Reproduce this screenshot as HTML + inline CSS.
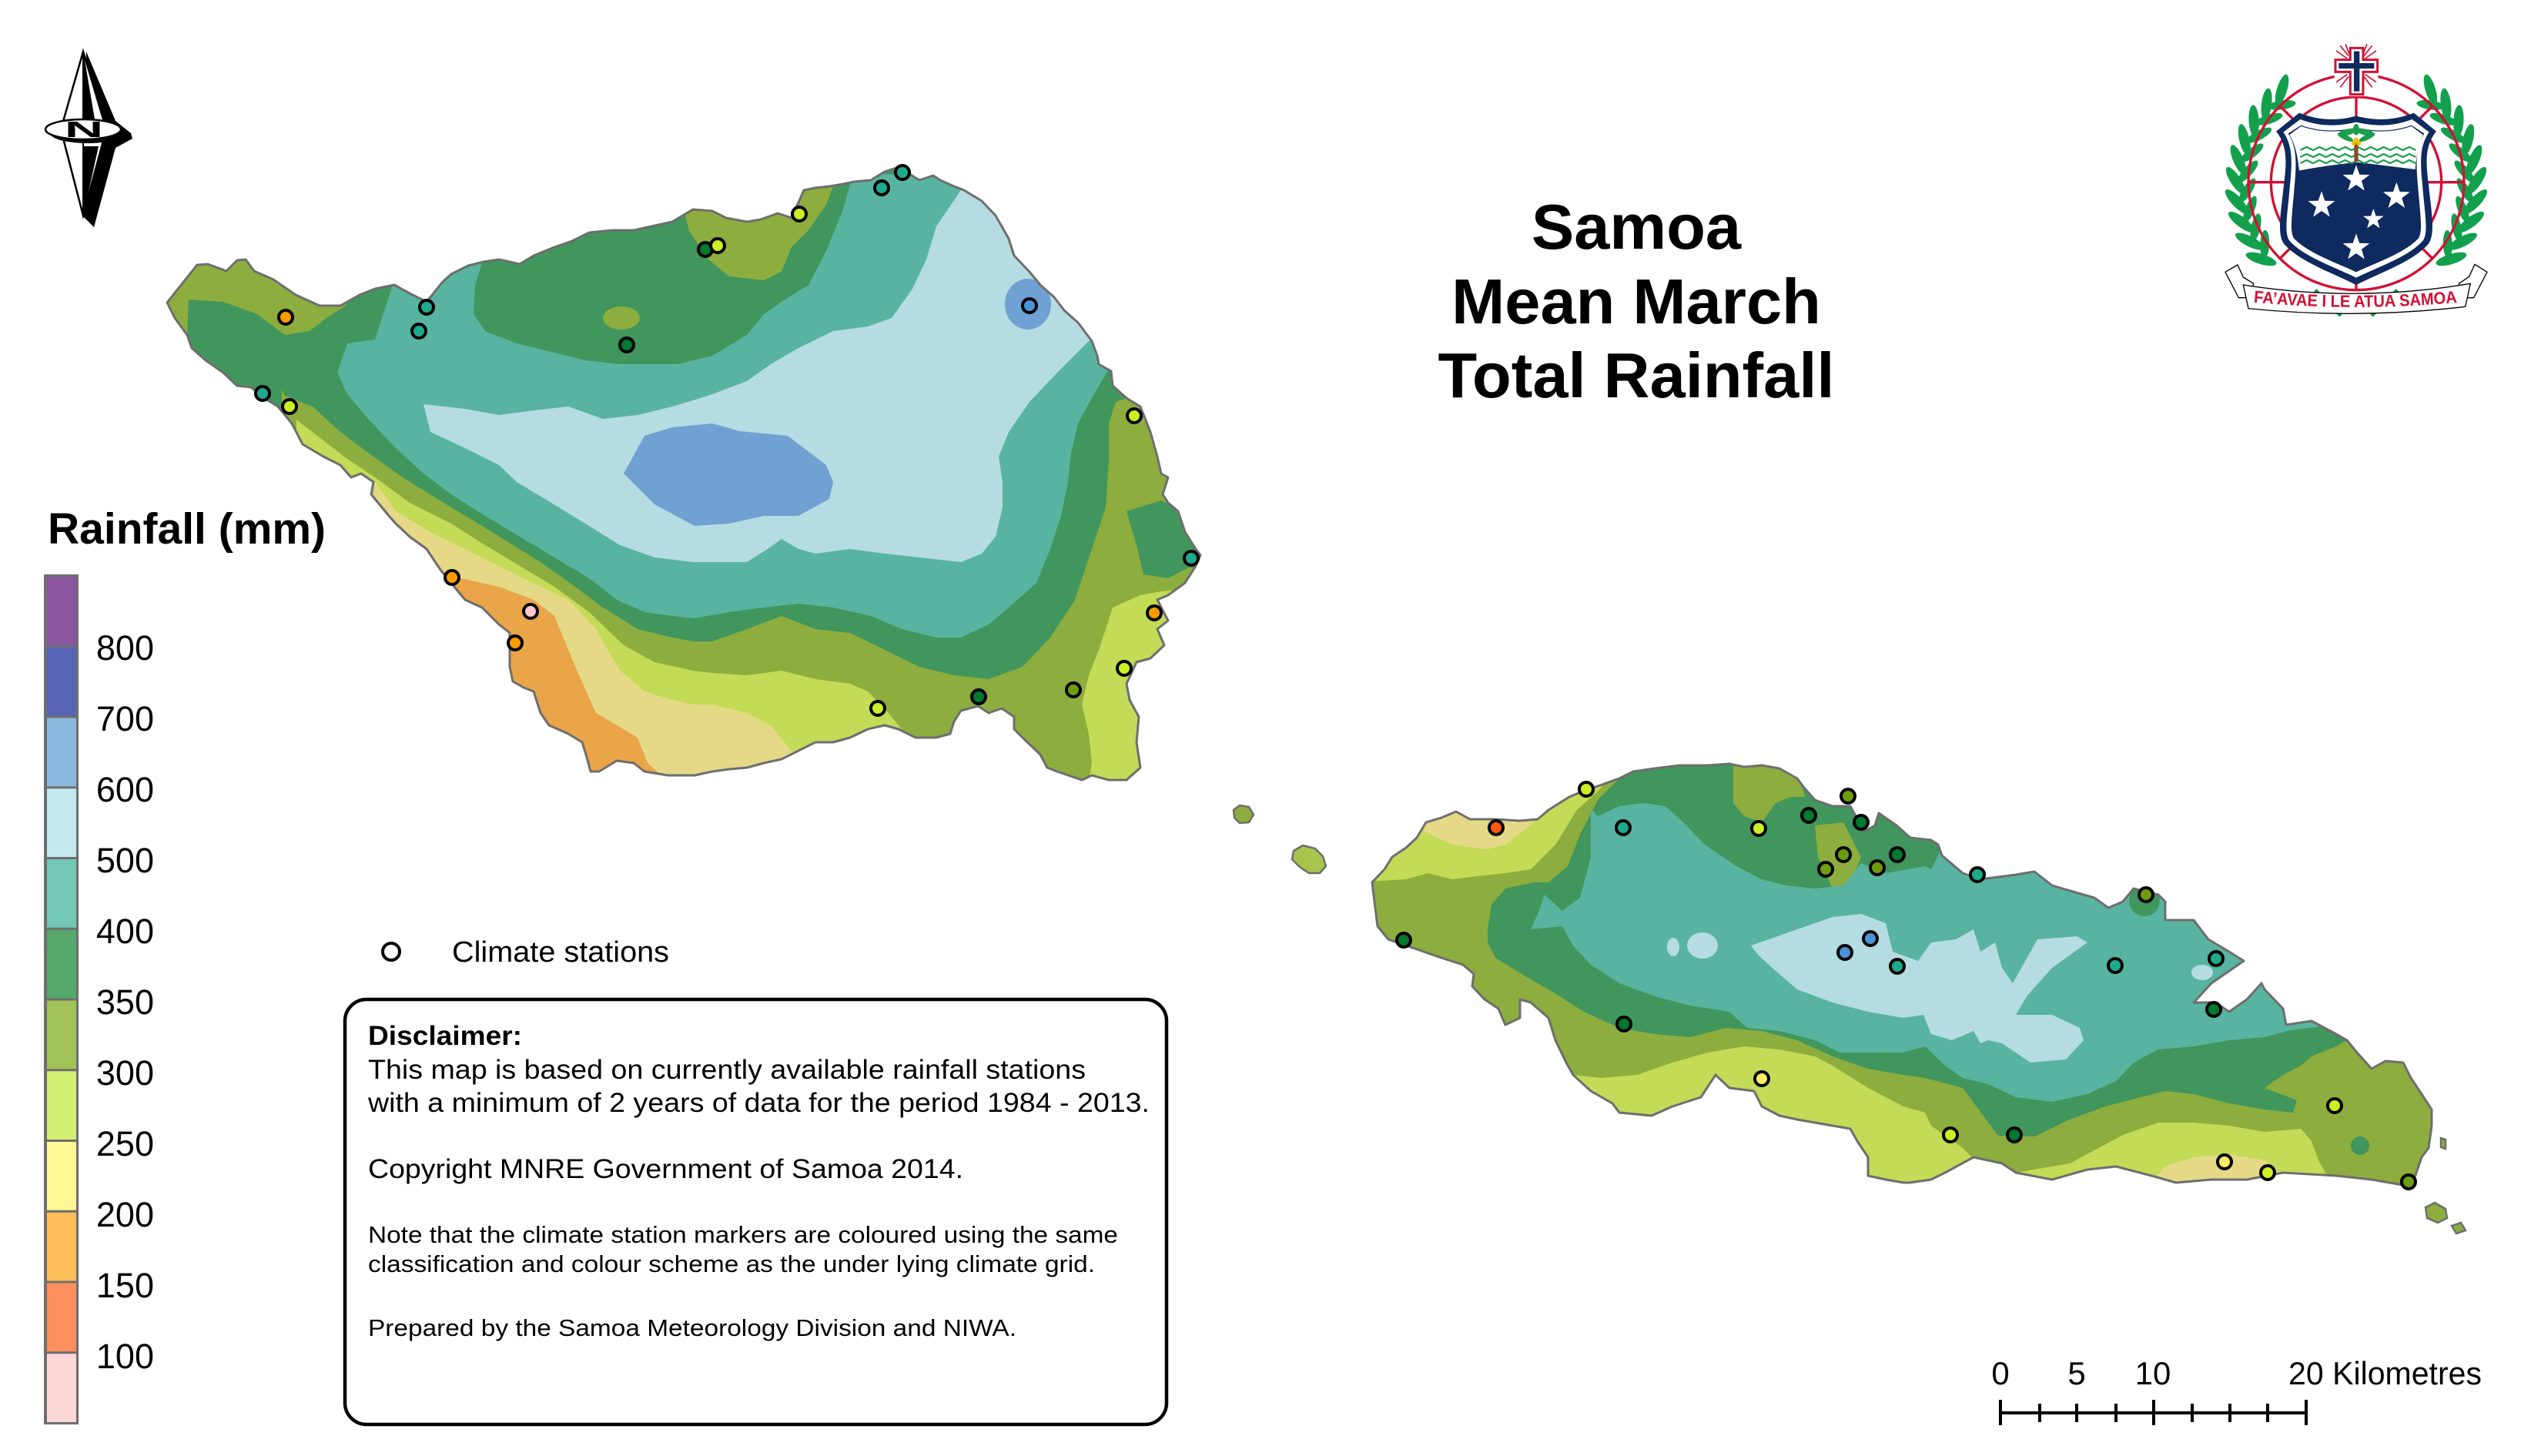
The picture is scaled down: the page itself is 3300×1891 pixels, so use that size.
<!DOCTYPE html>
<html><head><meta charset="utf-8"><style>html,body{margin:0;padding:0;background:#fff;}svg{display:block;}</style></head><body>
<svg width="3300" height="1891" viewBox="0 0 3300 1891" xmlns="http://www.w3.org/2000/svg" xmlns:xlink="http://www.w3.org/1999/xlink" font-family="'Liberation Sans', Arial, sans-serif">
<defs>
<clipPath id="cs"><polygon points="217,393 256,344 270,343 294,352 308,338 319,337 330,352 355,363 384,383 415,397 442,397 467,383 487,375 512,370 532,381 554,392 574,367 586,356 608,345 628,340 648,337 675,343 693,332 720,321 743,313 765,302 796,299 823,299 846,294 873,288 900,272 925,274 943,283 970,288 988,285 1010,277 1028,283 1044,247 1059,244 1077,242 1095,239 1109,236 1131,234 1149,223 1167,217 1194,234 1212,228 1221,234 1239,242 1252,247 1275,261 1293,280 1310,310 1317,332 1337,353 1351,370 1369,386 1382,403 1400,419 1418,443 1425,462 1427,473 1443,482 1445,501 1463,517 1481,528 1494,561 1503,593 1508,615 1517,620 1510,642 1517,653 1530,664 1539,691 1553,713 1559,721 1553,735 1539,757 1517,773 1503,779 1517,806 1503,817 1512,838 1494,855 1476,860 1463,888 1467,909 1479,931 1476,964 1481,997 1463,1013 1440,1013 1418,1007 1405,1013 1373,1002 1360,997 1351,980 1328,958 1317,947 1317,931 1301,920 1284,926 1270,917 1248,923 1239,937 1234,953 1216,958 1189,958 1167,947 1149,942 1127,947 1104,958 1082,964 1059,964 1037,975 1015,986 992,991 970,997 947,999 925,1002 902,1007 880,1007 868,1007 837,1002 823,991 801,988 778,1002 767,1002 761,980 756,964 738,953 713,942 702,926 693,898 680,893 666,885 662,866 662,822 648,811 626,789 604,779 590,762 572,740 554,713 532,697 514,680 505,670 496,659 482,642 485,626 469,615 456,620 442,604 420,593 393,577 379,550 361,528 343,517 326,503 308,501 290,484 267,468 249,452 243,435 227,413"/></clipPath>
<clipPath id="cu"><polygon points="1782,1146 1798,1129 1808,1113 1826,1101 1840,1088 1852,1068 1872,1062 1891,1054 1909,1064 1942,1064 1974,1066 1997,1064 2011,1052 2038,1035 2057,1027 2075,1021 2103,1011 2121,1002 2149,998 2181,994 2218,994 2246,992 2265,996 2288,994 2311,998 2334,1011 2343,1023 2357,1039 2380,1047 2403,1047 2421,1080 2435,1072 2440,1056 2463,1072 2481,1088 2508,1091 2517,1097 2522,1111 2549,1134 2572,1142 2618,1136 2642,1132 2665,1150 2692,1158 2720,1166 2738,1179 2757,1171 2771,1154 2803,1162 2812,1171 2812,1195 2849,1195 2868,1220 2895,1236 2914,1248 2872,1277 2849,1302 2877,1302 2895,1314 2918,1298 2937,1277 2941,1285 2965,1310 2969,1331 3002,1326 3034,1343 3048,1351 3061,1367 3080,1388 3098,1378 3121,1380 3131,1400 3145,1421 3158,1441 3158,1462 3154,1491 3145,1503 3135,1532 3126,1540 3080,1532 3034,1527 2965,1523 2918,1532 2872,1532 2826,1536 2794,1527 2748,1515 2711,1519 2665,1532 2618,1523 2600,1511 2563,1503 2526,1523 2508,1532 2480,1536 2472,1536 2449,1532 2426,1527 2426,1503 2412,1482 2403,1466 2380,1462 2334,1454 2311,1449 2288,1437 2278,1417 2246,1413 2228,1396 2209,1425 2172,1437 2145,1449 2103,1445 2094,1433 2066,1417 2043,1396 2034,1380 2020,1351 2011,1322 1988,1302 1974,1298 1974,1322 1955,1331 1946,1310 1928,1298 1912,1281 1914,1265 1900,1253 1872,1244 1849,1236 1826,1228 1803,1220 1789,1203 1785,1171"/></clipPath>
<polygon id="star" points="0,-1 0.235,-0.324 0.951,-0.309 0.380,0.124 0.588,0.809 0,0.4 -0.588,0.809 -0.380,0.124 -0.951,-0.309 -0.235,-0.324"/>
</defs>

<rect width="3300" height="1891" fill="#fff"/>

<!-- ===== SAVAI'I ===== -->
<g clip-path="url(#cs)">
<rect x="150" y="150" width="1500" height="950" fill="#40965C"/>
<g fill="#8DAD3E">
<polygon points="200,330 460,330 449,397 424,413 402,430 370,435 334,408 290,392 245,389 243,432 200,440"/>
<polygon points="885,260 1090,225 1082,242 1073,266 1050,299 1028,321 1015,353 992,364 947,359 920,337 895,300"/>
<ellipse cx="807" cy="413" rx="24" ry="15"/>
<polygon points="366,506 370,514 406,528 442,561 478,588 523,620 568,648 613,675 657,702 702,730 747,762 783,789 828,817 873,828 900,833 925,833 970,817 1015,800 1059,817 1104,822 1149,844 1194,866 1239,877 1284,882 1328,866 1364,828 1396,779 1418,713 1436,659 1440,599 1440,550 1449,522 1463,517 1480,510 1600,510 1600,1100 366,1100"/>
</g>
<polygon fill="#40965C" points="1463,664 1508,650 1570,680 1570,740 1544,737 1517,751 1485,746 1476,708"/>
<g fill="#C3DB56">
<polygon points="385,545 447,593 487,620 532,653 586,680 630,708 675,735 720,762 765,795 810,838 850,860 900,871 925,874 970,877 1015,871 1059,882 1104,888 1127,898 1149,920 1171,947 1190,980 1190,1100 385,1100"/>
<polygon points="1508,768 1481,773 1445,789 1436,817 1427,844 1414,877 1405,915 1414,953 1418,991 1414,1013 1414,1060 1600,1060 1600,760"/>
</g>
<polygon fill="#E5D987" points="487,626 514,664 559,691 604,713 648,735 693,757 738,779 774,817 805,871 837,898 873,909 900,915 925,915 970,926 1001,942 1023,969 1032,980 1040,1100 487,1100"/>
<polygon fill="#E9A548" points="585,748 648,762 693,779 720,800 738,844 752,877 774,926 810,947 828,958 841,991 859,1007 859,1100 585,1100"/>
<polygon fill="#58B4A0" points="509,330 509,373 487,441 451,446 438,484 451,512 478,544 514,582 550,615 586,642 630,670 675,697 720,724 765,751 801,779 837,795 873,800 902,803 947,795 992,789 1037,784 1082,789 1131,800 1171,817 1216,828 1248,828 1284,811 1310,789 1346,757 1364,713 1378,670 1387,626 1391,588 1400,550 1418,517 1440,479 1470,470 1470,420 1300,230 1104,225 1104,239 1095,272 1073,326 1050,370 1015,392 992,408 970,435 925,462 880,473 850,473 805,473 760,468 716,457 671,446 630,430 615,408 617,370 630,330"/>
<polygon fill="#B5DCE2" points="550,525 604,531 648,539 693,533 738,528 783,544 828,539 873,528 900,520 925,512 970,495 1001,473 1037,452 1082,430 1127,424 1158,413 1185,375 1203,337 1216,294 1248,247 1260,230 1440,420 1414,443 1373,484 1337,522 1310,561 1297,593 1302,626 1302,659 1293,697 1275,719 1248,730 1221,727 1194,724 1149,719 1104,713 1059,719 1037,713 1015,700 997,713 970,730 947,730 925,730 900,730 850,724 805,708 760,680 716,653 671,626 648,604 604,582 559,561"/>
<polygon fill="#6FA1D2" points="810,615 837,566 873,555 925,550 961,560 1023,566 1073,604 1082,626 1077,648 1037,670 992,670 947,680 902,683 850,655"/>
<ellipse fill="#6FA1D2" cx="1335" cy="395" rx="30" ry="33"/>
</g>
<polygon fill="none" stroke="#6e6e6e" stroke-width="3" stroke-linejoin="round" points="217,393 256,344 270,343 294,352 308,338 319,337 330,352 355,363 384,383 415,397 442,397 467,383 487,375 512,370 532,381 554,392 574,367 586,356 608,345 628,340 648,337 675,343 693,332 720,321 743,313 765,302 796,299 823,299 846,294 873,288 900,272 925,274 943,283 970,288 988,285 1010,277 1028,283 1044,247 1059,244 1077,242 1095,239 1109,236 1131,234 1149,223 1167,217 1194,234 1212,228 1221,234 1239,242 1252,247 1275,261 1293,280 1310,310 1317,332 1337,353 1351,370 1369,386 1382,403 1400,419 1418,443 1425,462 1427,473 1443,482 1445,501 1463,517 1481,528 1494,561 1503,593 1508,615 1517,620 1510,642 1517,653 1530,664 1539,691 1553,713 1559,721 1553,735 1539,757 1517,773 1503,779 1517,806 1503,817 1512,838 1494,855 1476,860 1463,888 1467,909 1479,931 1476,964 1481,997 1463,1013 1440,1013 1418,1007 1405,1013 1373,1002 1360,997 1351,980 1328,958 1317,947 1317,931 1301,920 1284,926 1270,917 1248,923 1239,937 1234,953 1216,958 1189,958 1167,947 1149,942 1127,947 1104,958 1082,964 1059,964 1037,975 1015,986 992,991 970,997 947,999 925,1002 902,1007 880,1007 868,1007 837,1002 823,991 801,988 778,1002 767,1002 761,980 756,964 738,953 713,942 702,926 693,898 680,893 666,885 662,866 662,822 648,811 626,789 604,779 590,762 572,740 554,713 532,697 514,680 505,670 496,659 482,642 485,626 469,615 456,620 442,604 420,593 393,577 379,550 361,528 343,517 326,503 308,501 290,484 267,468 249,452 243,435 227,413"/>

<!-- small islands -->
<g stroke="#6e6e6e" stroke-width="2.5">
<polygon fill="#8DAD3E" points="1602,1052 1610,1046 1622,1048 1628,1058 1622,1068 1610,1069 1603,1062"/>
<polygon fill="#A9C44A" points="1680,1105 1692,1098 1708,1102 1718,1112 1722,1125 1714,1134 1700,1134 1688,1126 1678,1116"/>
<polygon fill="#8DAD3E" points="3150,1568 3162,1562 3176,1570 3178,1582 3166,1588 3152,1582"/>
<polygon fill="#8DAD3E" points="3184,1592 3196,1588 3202,1598 3190,1602"/>
<polygon fill="#8DAD3E" points="3170,1478 3176,1480 3176,1492 3170,1490"/>
</g>

<!-- ===== UPOLU ===== -->
<g clip-path="url(#cu)">
<rect x="1750" y="960" width="1450" height="650" fill="#8DAD3E"/>
<polygon fill="#C3DB56" points="1760,1146 1826,1142 1854,1134 1886,1142 1918,1138 1955,1134 1988,1129 2020,1097 2048,1052 2080,1023 2090,990 1760,990"/>
<polygon fill="#E5D987" points="1845,1040 2000,1040 1990,1070 1955,1097 1932,1103 1886,1097 1850,1080"/>
<polygon fill="#40965C" points="2103,980 2103,1011 2075,1039 2052,1084 2036,1125 2011,1146 1992,1146 1955,1154 1937,1175 1932,1207 1932,1224 1942,1244 1983,1269 2011,1285 2057,1314 2103,1335 2149,1343 2195,1347 2241,1335 2288,1339 2334,1351 2380,1372 2426,1388 2472,1396 2500,1400 2549,1413 2595,1475 2642,1476 2688,1454 2734,1437 2780,1425 2812,1417 2849,1421 2895,1433 2941,1441 2978,1445 2983,1429 2941,1413 2965,1396 2988,1384 3002,1372 3034,1359 3048,1351 3070,1340 3070,980"/>
<g fill="#8DAD3E">
<polygon points="2251,990 2297,990 2334,1008 2345,1035 2325,1035 2306,1043 2288,1068 2265,1060 2251,1043"/>
<polygon points="2357,1072 2394,1068 2417,1113 2403,1146 2380,1154 2361,1113"/>
</g>
<polygon fill="#58B4A0" points="2066,1050 2075,1060 2103,1047 2135,1043 2163,1047 2186,1068 2214,1097 2255,1125 2288,1142 2320,1150 2357,1154 2394,1150 2417,1121 2449,1134 2500,1125 2508,1129 2522,1100 2530,1080 2700,1080 2900,1150 3010,1260 3040,1330 2975,1338 2941,1347 2895,1351 2849,1359 2803,1363 2771,1380 2748,1404 2711,1421 2665,1431 2618,1425 2582,1408 2549,1400 2526,1384 2500,1359 2472,1367 2435,1367 2389,1367 2357,1351 2311,1339 2269,1335 2246,1314 2195,1306 2149,1294 2103,1277 2066,1253 2043,1228 2029,1203 1988,1207 1997,1187 2006,1162 2029,1183 2052,1166 2066,1113"/>
<g fill="#B5DCE2">
<polygon points="2274,1228 2297,1220 2334,1207 2380,1191 2417,1187 2449,1199 2458,1236 2491,1248 2508,1224 2540,1220 2563,1207 2572,1236 2591,1224 2600,1257 2614,1277 2646,1220 2697,1216 2711,1224 2665,1257 2632,1294 2618,1318 2665,1318 2701,1335 2706,1351 2683,1376 2637,1380 2600,1355 2582,1351 2572,1355 2563,1339 2535,1351 2508,1343 2498,1318 2472,1322 2426,1314 2380,1302 2334,1285 2306,1261 2283,1240"/>
<ellipse cx="2211" cy="1228" rx="20" ry="17"/>
<ellipse cx="2173" cy="1230" rx="8" ry="12"/>
<ellipse cx="2860" cy="1263" rx="14" ry="10"/>
</g>
<circle fill="#40965C" cx="2785" cy="1170" r="20"/>
<circle fill="#40965C" cx="3065" cy="1488" r="12"/>
<g fill="#C3DB56">
<polygon points="2040,1396 2080,1400 2126,1396 2172,1380 2218,1367 2265,1359 2311,1363 2357,1372 2380,1384 2426,1413 2472,1437 2500,1445 2508,1462 2549,1491 2568,1510 2568,1600 2000,1600 2000,1396"/>
<polygon points="2600,1530 2618,1523 2688,1511 2757,1474 2803,1458 2849,1458 2895,1462 2941,1470 2988,1466 3002,1482 3011,1507 3025,1532 3025,1600 2600,1600"/>
</g>
<polygon fill="#E5D987" points="2790,1540 2812,1515 2849,1503 2895,1499 2941,1507 2965,1527 2965,1600 2790,1600"/>
</g>
<polygon fill="none" stroke="#6e6e6e" stroke-width="3" stroke-linejoin="round" points="1782,1146 1798,1129 1808,1113 1826,1101 1840,1088 1852,1068 1872,1062 1891,1054 1909,1064 1942,1064 1974,1066 1997,1064 2011,1052 2038,1035 2057,1027 2075,1021 2103,1011 2121,1002 2149,998 2181,994 2218,994 2246,992 2265,996 2288,994 2311,998 2334,1011 2343,1023 2357,1039 2380,1047 2403,1047 2421,1080 2435,1072 2440,1056 2463,1072 2481,1088 2508,1091 2517,1097 2522,1111 2549,1134 2572,1142 2618,1136 2642,1132 2665,1150 2692,1158 2720,1166 2738,1179 2757,1171 2771,1154 2803,1162 2812,1171 2812,1195 2849,1195 2868,1220 2895,1236 2914,1248 2872,1277 2849,1302 2877,1302 2895,1314 2918,1298 2937,1277 2941,1285 2965,1310 2969,1331 3002,1326 3034,1343 3048,1351 3061,1367 3080,1388 3098,1378 3121,1380 3131,1400 3145,1421 3158,1441 3158,1462 3154,1491 3145,1503 3135,1532 3126,1540 3080,1532 3034,1527 2965,1523 2918,1532 2872,1532 2826,1536 2794,1527 2748,1515 2711,1519 2665,1532 2618,1523 2600,1511 2563,1503 2526,1523 2508,1532 2480,1536 2472,1536 2449,1532 2426,1527 2426,1503 2412,1482 2403,1466 2380,1462 2334,1454 2311,1449 2288,1437 2278,1417 2246,1413 2228,1396 2209,1425 2172,1437 2145,1449 2103,1445 2094,1433 2066,1417 2043,1396 2034,1380 2020,1351 2011,1322 1988,1302 1974,1298 1974,1322 1955,1331 1946,1310 1928,1298 1912,1281 1914,1265 1900,1253 1872,1244 1849,1236 1826,1228 1803,1220 1789,1203 1785,1171"/>

<!-- ===== STATIONS ===== -->
<g stroke="#000" stroke-width="4">
<circle cx="371" cy="412" r="9" fill="#FF9B00"/>
<circle cx="554" cy="399" r="9" fill="#1DAA8C"/>
<circle cx="544" cy="430" r="9" fill="#1DAA8C"/>
<circle cx="341" cy="511" r="9" fill="#1DAA8C"/>
<circle cx="376" cy="528" r="9" fill="#CCEE22"/>
<circle cx="814" cy="448" r="9" fill="#017A30"/>
<circle cx="587" cy="750" r="9" fill="#FF9B00"/>
<circle cx="689" cy="794" r="9" fill="#FFC9C9"/>
<circle cx="669" cy="835" r="9" fill="#FF9B00"/>
<circle cx="916" cy="324" r="9" fill="#017A30"/>
<circle cx="932" cy="319" r="9" fill="#CCEE22"/>
<circle cx="1038" cy="278" r="9" fill="#CCEE22"/>
<circle cx="1145" cy="244" r="9" fill="#1DAA8C"/>
<circle cx="1172" cy="224" r="9" fill="#1DAA8C"/>
<circle cx="1337" cy="397" r="9" fill="#4C93D8"/>
<circle cx="1473" cy="540" r="9" fill="#CCEE22"/>
<circle cx="1547" cy="725" r="9" fill="#1DAA8C"/>
<circle cx="1499" cy="796" r="9" fill="#FF9B00"/>
<circle cx="1460" cy="868" r="9" fill="#CCEE22"/>
<circle cx="1394" cy="896" r="9" fill="#6E9C10"/>
<circle cx="1271" cy="905" r="9" fill="#017A30"/>
<circle cx="1140" cy="920" r="9" fill="#CCEE22"/>
<circle cx="2060" cy="1025" r="9" fill="#CCEE22"/>
<circle cx="1943" cy="1075" r="9" fill="#FF5A12"/>
<circle cx="2108" cy="1075" r="9" fill="#1DAA8C"/>
<circle cx="1823" cy="1221" r="9" fill="#017A30"/>
<circle cx="2284" cy="1076" r="9" fill="#CCEE22"/>
<circle cx="2349" cy="1059" r="9" fill="#017A30"/>
<circle cx="2400" cy="1034" r="9" fill="#6E9C10"/>
<circle cx="2417" cy="1068" r="9" fill="#017A30"/>
<circle cx="2394" cy="1110" r="9" fill="#6E9C10"/>
<circle cx="2371" cy="1129" r="9" fill="#6E9C10"/>
<circle cx="2438" cy="1127" r="9" fill="#6E9C10"/>
<circle cx="2464" cy="1110" r="9" fill="#017A30"/>
<circle cx="2429" cy="1219" r="9" fill="#4C93D8"/>
<circle cx="2396" cy="1237" r="9" fill="#4C93D8"/>
<circle cx="2464" cy="1255" r="9" fill="#1DAA8C"/>
<circle cx="2109" cy="1330" r="9" fill="#017A30"/>
<circle cx="2288" cy="1401" r="9" fill="#FFEE66"/>
<circle cx="2568" cy="1136" r="9" fill="#1DAA8C"/>
<circle cx="2747" cy="1254" r="9" fill="#1DAA8C"/>
<circle cx="2787" cy="1162" r="9" fill="#6E9C10"/>
<circle cx="2878" cy="1245" r="9" fill="#1DAA8C"/>
<circle cx="2875" cy="1311" r="9" fill="#017A30"/>
<circle cx="3032" cy="1436" r="9" fill="#CCEE22"/>
<circle cx="2533" cy="1474" r="9" fill="#CCEE22"/>
<circle cx="2616" cy="1474" r="9" fill="#017A30"/>
<circle cx="2889" cy="1509" r="9" fill="#FFEE66"/>
<circle cx="2945" cy="1523" r="9" fill="#CCEE22"/>
<circle cx="3128" cy="1535" r="9" fill="#6E9C10"/>
</g>

<!-- ===== NORTH ARROW ===== -->
<g>
<polygon fill="#000" points="112,67 150,157 170,173 172,180 150,192 122,295 107,280"/>
<polygon fill="#fff" stroke="#000" stroke-width="2.5" points="108,67 138,168 108,280 79,168"/>
<line x1="108" y1="67" x2="108" y2="280" stroke="#000" stroke-width="2"/>
<polygon fill="#000" points="109,72 123,155 109,155"/>
<polygon fill="#000" points="109,190 128,190 109,276"/>
<ellipse cx="114" cy="173" rx="49" ry="13" fill="#000"/>
<ellipse cx="108" cy="168" rx="49" ry="13" fill="#fff" stroke="#000" stroke-width="2.5"/>
<text x="0" y="0" transform="translate(109,178) scale(2.4,1)" text-anchor="middle" font-size="29" font-weight="bold" fill="#000">N</text>
</g>

<!-- ===== TITLE ===== -->
<g font-weight="bold" font-size="83" text-anchor="middle" fill="#000">
<text x="2125" y="323">Samoa</text>
<text x="2125" y="420">Mean March</text>
<text x="2125" y="516">Total Rainfall</text>
</g>

<!-- ===== EMBLEM ===== -->
<g transform="translate(2880,40) scale(0.33333)">
<g id="wreathR" fill="#12A04C">
<ellipse cx="1010" cy="600" rx="62" ry="20" transform="rotate(-52 540 600) rotate(-55 1010 600)"/>
<ellipse cx="1010" cy="600" rx="62" ry="20" transform="rotate(-42 540 600) rotate(-55 1010 600)"/>
<ellipse cx="1010" cy="600" rx="62" ry="20" transform="rotate(-32 540 600) rotate(-55 1010 600)"/>
<ellipse cx="1010" cy="600" rx="62" ry="20" transform="rotate(-22 540 600) rotate(-55 1010 600)"/>
<ellipse cx="1010" cy="600" rx="62" ry="20" transform="rotate(-12 540 600) rotate(-55 1010 600)"/>
<ellipse cx="1010" cy="600" rx="62" ry="20" transform="rotate(-2 540 600) rotate(-55 1010 600)"/>
<ellipse cx="1010" cy="600" rx="62" ry="20" transform="rotate(8 540 600) rotate(-55 1010 600)"/>
<ellipse cx="1010" cy="600" rx="62" ry="20" transform="rotate(18 540 600) rotate(-55 1010 600)"/>
<ellipse cx="1010" cy="600" rx="62" ry="20" transform="rotate(28 540 600) rotate(-55 1010 600)"/>
<ellipse cx="1010" cy="600" rx="62" ry="20" transform="rotate(38 540 600) rotate(-55 1010 600)"/>
<ellipse cx="965" cy="600" rx="55" ry="18" transform="rotate(-47 540 600) rotate(-125 965 600)"/>
<ellipse cx="965" cy="600" rx="55" ry="18" transform="rotate(-37 540 600) rotate(-125 965 600)"/>
<ellipse cx="965" cy="600" rx="55" ry="18" transform="rotate(-27 540 600) rotate(-125 965 600)"/>
<ellipse cx="965" cy="600" rx="55" ry="18" transform="rotate(-17 540 600) rotate(-125 965 600)"/>
<ellipse cx="965" cy="600" rx="55" ry="18" transform="rotate(-7 540 600) rotate(-125 965 600)"/>
<ellipse cx="965" cy="600" rx="55" ry="18" transform="rotate(3 540 600) rotate(-125 965 600)"/>
<ellipse cx="965" cy="600" rx="55" ry="18" transform="rotate(13 540 600) rotate(-125 965 600)"/>
<ellipse cx="965" cy="600" rx="55" ry="18" transform="rotate(23 540 600) rotate(-125 965 600)"/>
<ellipse cx="965" cy="600" rx="55" ry="18" transform="rotate(33 540 600) rotate(-125 965 600)"/>
<path d="M600,1110 L700,1010" stroke="#12A04C" stroke-width="14"/>
</g>
<use xlink:href="#wreathR" href="#wreathR" transform="translate(1080,0) scale(-1,1)"/>
<g fill="none" stroke="#D21034" stroke-width="10">
<circle cx="540" cy="590" r="420"/>
<circle cx="540" cy="590" r="332"/>
<line x1="120" y1="590" x2="960" y2="590"/>
<line x1="540" y1="170" x2="540" y2="1010"/>
<line x1="243" y1="293" x2="837" y2="887"/>
<line x1="837" y1="293" x2="243" y2="887"/>
</g>
<rect x="455" y="150" width="170" height="105" fill="#fff"/>
<g stroke="#D21034" stroke-width="5">
<line x1="462" y1="78" x2="505" y2="108"/><line x1="478" y1="58" x2="510" y2="98"/><line x1="498" y1="52" x2="514" y2="92"/>
<line x1="618" y1="78" x2="575" y2="108"/><line x1="602" y1="58" x2="570" y2="98"/><line x1="582" y1="52" x2="566" y2="92"/>
<line x1="462" y1="200" x2="505" y2="170"/><line x1="478" y1="220" x2="510" y2="178"/>
<line x1="618" y1="200" x2="575" y2="170"/><line x1="602" y1="220" x2="570" y2="178"/>
</g>
<path d="M517,67 H567 V113 H623 V160 H567 V248 H517 V160 H459 V113 H517 Z" fill="#fff" stroke="#D21034" stroke-width="9"/>
<path d="M531,80 H553 V126 H610 V147 H553 V236 H531 V147 H472 V126 H531 Z" fill="#0E2A5E"/>
<path d="M228,392 L318,320 C400,352 470,350 540,332 C610,350 680,352 765,320 L852,392 C805,450 812,520 822,600 C835,720 848,790 822,830 C760,900 640,940 540,990 C440,940 320,900 258,830 C232,790 245,720 258,600 C268,520 275,450 228,392 Z" fill="#0E2A5E"/>
<path d="M256,395 L322,345 C400,375 470,372 540,356 C610,372 680,375 758,345 L824,395 C785,450 790,520 798,600 C808,720 822,785 800,818 C745,880 630,918 540,962 C450,918 335,880 280,818 C258,785 272,720 282,600 C290,520 295,450 256,395 Z" fill="#fff"/>
<path d="M275,400 L325,368 C400,395 470,392 540,378 C610,392 680,395 755,368 L805,400 C770,455 773,520 780,600 C790,720 800,780 783,808 C730,865 625,900 540,940 C455,900 350,865 297,808 C280,780 290,720 300,600 C307,520 310,455 275,400 Z" fill="#0E2A5E"/>
<path d="M280,405 L325,372 C400,398 470,395 540,382 C610,395 680,398 755,372 L800,405 C780,450 775,490 770,540 C690,530 610,520 540,512 C470,520 390,530 318,545 C312,490 305,450 280,405 Z" fill="#fff"/>
<g fill="none" stroke="#1B9E4B" stroke-width="7">
<path d="M322,465 l25,-12 l25,12 l25,-12 l25,12 l25,-12 l25,12 l25,-12 l25,12 l25,-12 l25,12 l25,-12 l25,12 l25,-12 l25,12 l25,-12 l25,12 l25,-12 l25,12"/>
<path d="M322,492 l25,-12 l25,12 l25,-12 l25,12 l25,-12 l25,12 l25,-12 l25,12 l25,-12 l25,12 l25,-12 l25,12 l25,-12 l25,12 l25,-12 l25,12 l25,-12 l25,12"/>
<path d="M322,516 l25,-12 l25,12 l25,-12 l25,12 l25,-12 l25,12 l25,-12 l25,12 l25,-12 l25,12 l25,-12 l25,12 l25,-12 l25,12 l25,-12 l25,12 l25,-12 l25,12"/>
</g>
<rect x="532" y="435" width="16" height="75" fill="#8B4A2B"/>
<g fill="#1B9E4B">
<ellipse cx="505" cy="395" rx="38" ry="12" transform="rotate(-15 505 395)"/>
<ellipse cx="575" cy="395" rx="38" ry="12" transform="rotate(15 575 395)"/>
<ellipse cx="498" cy="415" rx="34" ry="10" transform="rotate(25 498 415)"/>
<ellipse cx="582" cy="415" rx="34" ry="10" transform="rotate(-25 582 415)"/>
<ellipse cx="540" cy="385" rx="12" ry="22"/>
</g>
<g fill="#F2C200"><circle cx="540" cy="425" r="9"/><circle cx="530" cy="438" r="9"/><circle cx="550" cy="438" r="9"/></g>
<g fill="#fff">
<use xlink:href="#star" href="#star" transform="translate(540,578) scale(55)"/>
<use xlink:href="#star" href="#star" transform="translate(697,645) scale(55)"/>
<use xlink:href="#star" href="#star" transform="translate(405,680) scale(55)"/>
<use xlink:href="#star" href="#star" transform="translate(607,735) scale(42)"/>
<use xlink:href="#star" href="#star" transform="translate(540,845) scale(55)"/>
</g>
<g fill="#fff" stroke="#000" stroke-width="4">
<path d="M30,940 L78,912 L100,960 L140,985 L128,1040 L82,1040 Z"/>
<path d="M1050,940 L1002,910 L980,958 L940,985 L952,1040 L998,1040 Z"/>
<path d="M100,990 Q540,1060 985,985 L965,1075 Q540,1125 120,1082 Z"/>
</g>
<path id="ribpath" d="M140,1058 Q540,1095 940,1058" fill="none"/>
<text font-size="66" font-weight="bold" fill="#D21034"><textPath xlink:href="#ribpath" href="#ribpath" textLength="795" lengthAdjust="spacingAndGlyphs">FA’AVAE I LE ATUA SAMOA</textPath></text>
</g>

<!-- ===== LEGEND ===== -->
<text x="62" y="706" font-size="57" font-weight="bold" fill="#000">Rainfall (mm)</text>
<rect x="57" y="746" width="45" height="1104" fill="#6e6e6e"/>
<rect x="61" y="749" width="38" height="88.75" fill="#8B569F"/>
<rect x="61" y="840.75" width="38" height="88.75" fill="#5865B7"/>
<rect x="61" y="932.5" width="38" height="88.75" fill="#8BB8E0"/>
<rect x="61" y="1024.25" width="38" height="88.75" fill="#C3E9EF"/>
<rect x="61" y="1116" width="38" height="88.75" fill="#72C8B3"/>
<rect x="61" y="1207.75" width="38" height="88.75" fill="#57A86C"/>
<rect x="61" y="1299.5" width="38" height="88.75" fill="#A1C257"/>
<rect x="61" y="1391.25" width="38" height="88.75" fill="#D3EF71"/>
<rect x="61" y="1483" width="38" height="88.75" fill="#FFF694"/>
<rect x="61" y="1574.75" width="38" height="88.75" fill="#FEBF5B"/>
<rect x="61" y="1666.5" width="38" height="88.75" fill="#FE8F5C"/>
<rect x="61" y="1758.25" width="38" height="88.75" fill="#FDD6D8"/>
<g font-size="45" text-anchor="end" fill="#000">
<text x="200" y="857">800</text>
<text x="200" y="949">700</text>
<text x="200" y="1041">600</text>
<text x="200" y="1133">500</text>
<text x="200" y="1225">400</text>
<text x="200" y="1317">350</text>
<text x="200" y="1409">300</text>
<text x="200" y="1501">250</text>
<text x="200" y="1593">200</text>
<text x="200" y="1685">150</text>
<text x="200" y="1777">100</text>
</g>

<circle cx="508" cy="1236" r="11" fill="#fff" stroke="#000" stroke-width="4"/>
<text x="587" y="1249" font-size="38" fill="#000" textLength="282" lengthAdjust="spacingAndGlyphs">Climate stations</text>

<rect x="448" y="1298" width="1067" height="552" rx="28" ry="28" fill="#fff" stroke="#000" stroke-width="4.5"/>
<g fill="#000">
<text x="478" y="1357" font-size="35" font-weight="bold" textLength="200" lengthAdjust="spacingAndGlyphs">Disclaimer:</text>
<text x="478" y="1401" font-size="35" textLength="932" lengthAdjust="spacingAndGlyphs">This map is based on currently available rainfall stations</text>
<text x="478" y="1444" font-size="35" textLength="1015" lengthAdjust="spacingAndGlyphs">with a minimum of 2 years of data for the period 1984 - 2013.</text>
<text x="478" y="1530" font-size="35" textLength="773" lengthAdjust="spacingAndGlyphs">Copyright MNRE Government of Samoa 2014.</text>
<text x="478" y="1614" font-size="31" textLength="974" lengthAdjust="spacingAndGlyphs">Note that the climate station markers are coloured using the same</text>
<text x="478" y="1652" font-size="31" textLength="944" lengthAdjust="spacingAndGlyphs">classification and colour scheme as the under lying climate grid.</text>
<text x="478" y="1735" font-size="31" textLength="842" lengthAdjust="spacingAndGlyphs">Prepared by the Samoa Meteorology Division and NIWA.</text>
</g>

<!-- ===== SCALE BAR ===== -->
<g font-size="42" fill="#000">
<text x="2598" y="1798" text-anchor="middle">0</text>
<text x="2697" y="1798" text-anchor="middle">5</text>
<text x="2796" y="1798" text-anchor="middle">10</text>
<text x="2972" y="1798" textLength="251" lengthAdjust="spacingAndGlyphs">20 Kilometres</text>
</g>
<g stroke="#000" stroke-width="4">
<line x1="2598" y1="1835" x2="2995" y2="1835"/>
<line x1="2598" y1="1818" x2="2598" y2="1851"/>
<line x1="2649" y1="1823" x2="2649" y2="1847"/>
<line x1="2697" y1="1823" x2="2697" y2="1847"/>
<line x1="2748" y1="1823" x2="2748" y2="1847"/>
<line x1="2797" y1="1818" x2="2797" y2="1851"/>
<line x1="2847" y1="1823" x2="2847" y2="1847"/>
<line x1="2896" y1="1823" x2="2896" y2="1847"/>
<line x1="2945" y1="1823" x2="2945" y2="1847"/>
<line x1="2995" y1="1818" x2="2995" y2="1851"/>
</g>
</svg>
</body></html>
